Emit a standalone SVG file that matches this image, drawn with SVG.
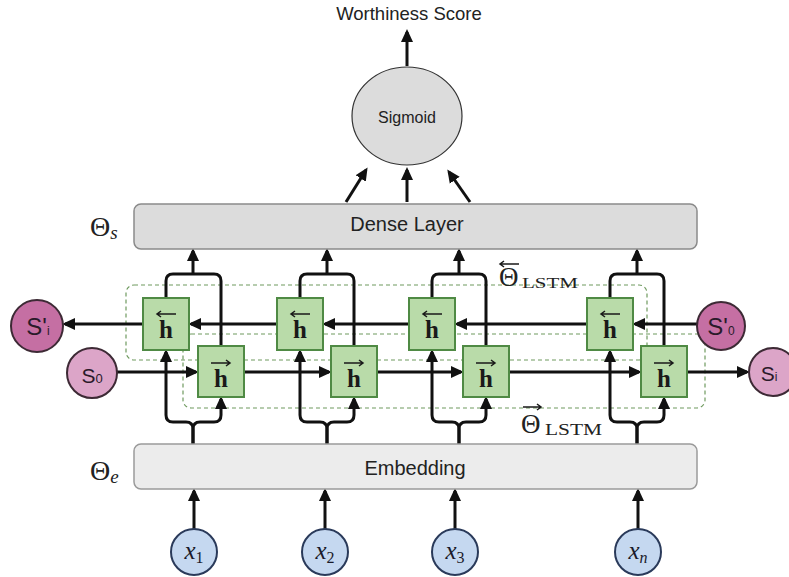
<svg xmlns="http://www.w3.org/2000/svg" width="789" height="577" viewBox="0 0 789 577">
<defs>
<marker id="ah" markerUnits="userSpaceOnUse" markerWidth="13" markerHeight="13" viewBox="0 0 13 13" refX="10" refY="6.5" orient="auto">
<path d="M0,0.5 L13,6.5 L0,12.5 z" fill="#111"/>
</marker>
<style>
.ln{fill:none;stroke:#111;stroke-width:3}
.ar{fill:none;stroke:#111;stroke-width:3;marker-end:url(#ah)}
.box{fill:#b9dba9;stroke:#4f8a44;stroke-width:2}
.hh{font-family:"Liberation Serif",serif;font-weight:bold;font-size:25px;fill:#1a1a1a;text-anchor:middle}
.ov{fill:none;stroke:#1a1a1a;stroke-width:1.5}
.dash{fill:none;stroke:#6f9a5f;stroke-width:1.2;stroke-dasharray:4 3}
.sans{font-family:"Liberation Sans",Arial,sans-serif;fill:#222;text-anchor:middle}
.ser{font-family:"Liberation Serif",serif;fill:#222}
.sd{fill:#c56fa3;stroke:#3d2a35;stroke-width:2}
.sl{fill:#dca5c8;stroke:#3d2a35;stroke-width:2}
.st{font-family:"Liberation Sans",Arial,sans-serif;fill:#2a1a2a;text-anchor:middle}
.xc{fill:#c5d8f0;stroke:#2a3a5a;stroke-width:2}
.xt{font-family:"Liberation Serif",serif;font-style:italic;fill:#1a1a2a;text-anchor:middle}
</style>
</defs>
<rect width="789" height="577" fill="#fff"/>

<g id="dashed-regions">
<rect class="dash" x="126" y="285" width="521" height="75" rx="8"/>
<rect class="dash" x="183" y="334" width="522" height="74" rx="8"/>
</g>

<g id="connectors">
<line class="ar" x1="407" y1="66" x2="407" y2="32"/>
<line class="ar" x1="346" y1="202" x2="366" y2="170"/>
<line class="ar" x1="407" y1="202" x2="407" y2="170"/>
<line class="ar" x1="470" y1="202" x2="449" y2="172"/>
<line class="ar" x1="194" y1="529" x2="194" y2="491"/>
<line class="ar" x1="325" y1="529" x2="325" y2="491"/>
<line class="ar" x1="455" y1="529" x2="455" y2="491"/>
<line class="ar" x1="638" y1="529" x2="638" y2="491"/>
<line class="ar" x1="697" y1="324" x2="635" y2="324"/>
<line class="ar" x1="587" y1="324" x2="457" y2="324"/>
<line class="ar" x1="409" y1="324" x2="325" y2="324"/>
<line class="ar" x1="277" y1="324" x2="191" y2="324"/>
<line class="ar" x1="143" y1="324" x2="65" y2="324"/>
<line class="ar" x1="117" y1="372" x2="196" y2="372"/>
<line class="ar" x1="244" y1="372" x2="329" y2="372"/>
<line class="ar" x1="377" y1="372" x2="461" y2="372"/>
<line class="ar" x1="509" y1="372" x2="639" y2="372"/>
<line class="ar" x1="687" y1="372" x2="747" y2="372"/>
<path class="ar" d="M193,444 V429 Q193,422 186,422 H173 Q166,422 166,415 V352"/>
<path class="ar" d="M193,444 V429 Q193,422 200,422 H214 Q221,422 221,415 V399"/>
<path class="ln" d="M166,298 V281 Q166,274 173,274 H193"/>
<path class="ln" d="M221,346 V281 Q221,274 214,274 H193"/>
<line class="ar" x1="193" y1="274" x2="193" y2="251"/>
<path class="ar" d="M327,444 V429 Q327,422 320,422 H307 Q300,422 300,415 V352"/>
<path class="ar" d="M327,444 V429 Q327,422 334,422 H347 Q354,422 354,415 V399"/>
<path class="ln" d="M300,298 V281 Q300,274 307,274 H327"/>
<path class="ln" d="M354,346 V281 Q354,274 347,274 H327"/>
<line class="ar" x1="327" y1="274" x2="327" y2="251"/>
<path class="ar" d="M459,444 V429 Q459,422 452,422 H439 Q432,422 432,415 V352"/>
<path class="ar" d="M459,444 V429 Q459,422 466,422 H479 Q486,422 486,415 V399"/>
<path class="ln" d="M432,298 V281 Q432,274 439,274 H459"/>
<path class="ln" d="M486,346 V281 Q486,274 479,274 H459"/>
<line class="ar" x1="459" y1="274" x2="459" y2="251"/>
<path class="ar" d="M637,444 V429 Q637,422 630,422 H617 Q610,422 610,415 V352"/>
<path class="ar" d="M637,444 V429 Q637,422 644,422 H657 Q664,422 664,415 V399"/>
<path class="ln" d="M610,298 V281 Q610,274 617,274 H637"/>
<path class="ln" d="M664,346 V281 Q664,274 657,274 H637"/>
<line class="ar" x1="637" y1="274" x2="637" y2="251"/>
</g>

<g id="worthiness">
<text class="sans" x="409" y="20" font-size="18.5">Worthiness Score</text>
</g>

<g id="sigmoid">
<ellipse cx="407" cy="116" rx="55" ry="49" fill="#dcdcdc" stroke="#333" stroke-width="1.2"/>
<text class="sans" x="407" y="123" font-size="16">Sigmoid</text>
</g>

<g id="dense">
<rect x="134" y="204" width="563" height="45" rx="7" fill="#dcdcdc" stroke="#8a8a8a" stroke-width="1.5"/>
<text class="sans" x="407" y="231" font-size="20">Dense Layer</text>
<text class="ser" x="90" y="236" font-size="28">Θ<tspan font-style="italic" font-size="19" dy="3">s</tspan></text>
</g>

<g id="embedding">
<rect x="134" y="444" width="563" height="45" rx="7" fill="#ececec" stroke="#9a9a9a" stroke-width="1.5"/>
<text class="sans" x="415" y="475" font-size="20">Embedding</text>
<text class="ser" x="90" y="480" font-size="28">Θ<tspan font-style="italic" font-size="19" dy="3">e</tspan></text>
</g>

<g id="theta-lstm-back">
<text class="ser" x="499" y="286" font-size="27">Θ</text>
<text class="ser" x="522" y="288" font-size="15" textLength="56" lengthAdjust="spacingAndGlyphs">LSTM</text>
<path class="ov" d="M519,264 H500 M504,261 L500,264 L504,267"/>
</g>

<g id="theta-lstm-fwd">
<text class="ser" x="521" y="433" font-size="27">Θ</text>
<text class="ser" x="545" y="435" font-size="17" textLength="57" lengthAdjust="spacingAndGlyphs">LSTM</text>
<path class="ov" d="M523,407 H541 M537,404 L541,407 L537,410"/>
</g>

<g id="h-back-1"><rect class="box" x="143" y="298" width="46" height="52"/><text class="hh" x="166" y="338">h</text><path class="ov" d="M176,314 H157 M161,311 L157,314 L161,317"/></g>
<g id="h-fwd-1"><rect class="box" x="198" y="346" width="46" height="51"/><text class="hh" x="221" y="387">h</text><path class="ov" d="M211,363 H230 M226,360 L230,363 L226,366"/></g>
<g id="h-back-2"><rect class="box" x="277" y="298" width="46" height="52"/><text class="hh" x="300" y="338">h</text><path class="ov" d="M310,314 H291 M295,311 L291,314 L295,317"/></g>
<g id="h-fwd-2"><rect class="box" x="331" y="346" width="46" height="51"/><text class="hh" x="354" y="387">h</text><path class="ov" d="M344,363 H363 M359,360 L363,363 L359,366"/></g>
<g id="h-back-3"><rect class="box" x="409" y="298" width="46" height="52"/><text class="hh" x="432" y="338">h</text><path class="ov" d="M442,314 H423 M427,311 L423,314 L427,317"/></g>
<g id="h-fwd-3"><rect class="box" x="463" y="346" width="46" height="51"/><text class="hh" x="486" y="387">h</text><path class="ov" d="M476,363 H495 M491,360 L495,363 L491,366"/></g>
<g id="h-back-4"><rect class="box" x="587" y="298" width="46" height="52"/><text class="hh" x="610" y="338">h</text><path class="ov" d="M620,314 H601 M605,311 L601,314 L605,317"/></g>
<g id="h-fwd-4"><rect class="box" x="641" y="346" width="46" height="51"/><text class="hh" x="664" y="387">h</text><path class="ov" d="M654,363 H673 M669,360 L673,363 L669,366"/></g>

<g id="s-prime-i"><circle class="sd" cx="37" cy="326" r="26"/><text class="st" x="38" y="335" font-size="24">S'<tspan font-size="12">i</tspan></text></g>
<g id="s-0"><circle class="sl" cx="92" cy="373" r="25"/><text class="st" x="92" y="383" font-size="21">S<tspan font-size="13">0</tspan></text></g>
<g id="s-prime-0"><circle class="sd" cx="721" cy="326" r="24"/><text class="st" x="721" y="335" font-size="24">S'<tspan font-size="12">0</tspan></text></g>
<g id="s-i"><circle class="sl" cx="773" cy="372" r="24"/><text class="st" x="769" y="381" font-size="21">S<tspan font-size="12">i</tspan></text></g>

<g id="x1"><circle class="xc" cx="194" cy="552" r="23"/><text class="xt" x="194" y="559" font-size="25">x<tspan font-style="normal" font-size="16" dy="4">1</tspan></text></g>
<g id="x2"><circle class="xc" cx="325" cy="552" r="23"/><text class="xt" x="325" y="559" font-size="25">x<tspan font-style="normal" font-size="16" dy="4">2</tspan></text></g>
<g id="x3"><circle class="xc" cx="455" cy="552" r="23"/><text class="xt" x="455" y="559" font-size="25">x<tspan font-style="normal" font-size="16" dy="4">3</tspan></text></g>
<g id="xn"><circle class="xc" cx="638" cy="552" r="23"/><text class="xt" x="638" y="559" font-size="25">x<tspan font-size="16" dy="4">n</tspan></text></g>
</svg>
